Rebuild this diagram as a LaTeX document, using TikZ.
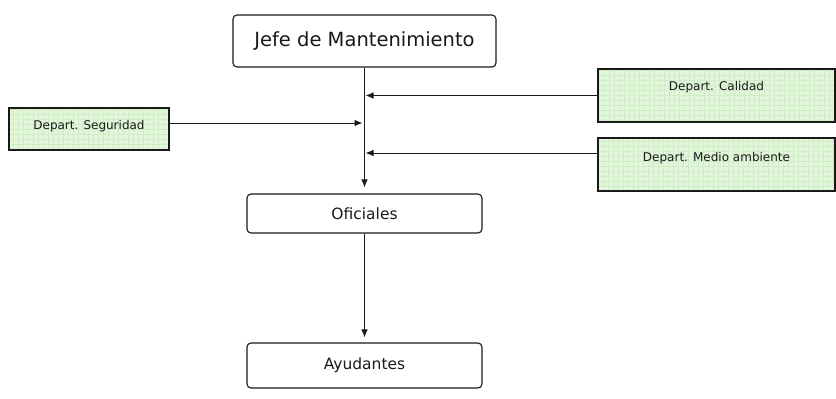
\documentclass[tikz,border=0pt]{standalone}
\usepackage{fontspec}
\setmainfont{DejaVu Sans}
\usetikzlibrary{arrows.meta,calc}
\definecolor{boxgreen}{RGB}{226,247,218}
\definecolor{gridgreen}{RGB}{208,236,200}
\definecolor{ink}{RGB}{25,25,25}
\begin{document}
\begin{tikzpicture}[x=1pt,y=-1pt,
  wbox/.style={draw=ink, line width=1.1pt, rounded corners=4pt, fill=white, inner sep=0pt, text=ink},
  gbox/.style={draw=ink, line width=1.2pt, inner sep=0pt, text=ink, fill=boxgreen,
     font=\fontsize{12}{14}\selectfont,
     path picture={\draw[gridgreen, line width=0.3pt] (path picture bounding box.south west) grid[step=5pt] (path picture bounding box.north east);}},
  arr/.style={draw=ink, line width=0.9pt, -{Latex[length=8pt,width=6.5pt]}}]
\useasboundingbox (0,0) rectangle (836,399);
\fill[white] (0,0) rectangle (836,399);

\node[wbox, minimum width=263, minimum height=52, font=\fontsize{19.5}{22}\selectfont] (jefe) at (364.5,41) {Jefe de Mantenimiento};
\node[wbox, minimum width=235, minimum height=39, font=\fontsize{15.5}{18}\selectfont] (ofi) at (364.5,213.5) {Oficiales};
\node[wbox, minimum width=235, minimum height=45, font=\fontsize{15.5}{18}\selectfont] (ayu) at (364.5,365.5) {Ayudantes};

\node[gbox, minimum width=160, minimum height=42, text height=9pt, text depth=8pt] (seg) at (89,129) {Depart. Seguridad};
\node[gbox, minimum width=237, minimum height=53, text height=9pt, text depth=19pt] (cal) at (716.5,95.5) {Depart. Calidad};
\node[gbox, minimum width=237, minimum height=53, text height=9pt, text depth=15pt] (med) at (716.5,164.5) {Depart. Medio ambiente};

\draw[arr, shorten >=6pt] (jefe.south) -- (ofi.north);
\draw[arr, shorten >=5pt] (ofi.south) -- (ayu.north);

\draw[arr, shorten >=1pt] (cal.west) -- (cal.west -| jefe.south);
\coordinate (mw) at ([yshift=11.5pt]med.west);
\draw[arr, shorten >=1pt] (mw) -- (mw -| jefe.south);
\coordinate (sw) at ([yshift=6pt]seg.east);
\draw[arr, shorten >=2pt] (sw) -- (sw -| jefe.south);
\end{tikzpicture}
\end{document}
